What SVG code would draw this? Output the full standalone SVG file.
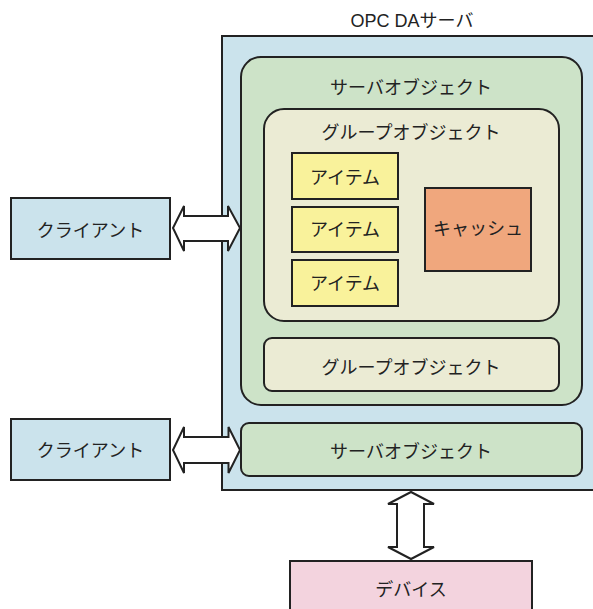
<svg xmlns="http://www.w3.org/2000/svg" width="593" height="609" viewBox="0 0 593 609">
  <style>
    .box { stroke: #222; stroke-width: 2; }
    .blue { fill: #cbe3ec; }
    .green { fill: #cde3c8; }
    .beige { fill: #ebebd4; }
    .yellow { fill: #f9f29b; }
    .salmon { fill: #f0a77d; }
    .pink { fill: #f3d3de; }
    .lbl { font-family: "Liberation Sans", "Noto Sans CJK JP", sans-serif; font-size: 18px; fill: #222; text-anchor: middle; }
    .arrow { fill: #fff; stroke: #222; stroke-width: 2; stroke-linejoin: miter; }
  </style>
  <rect width="593" height="609" fill="#fff"/>

  <g id="title">
    <text class="lbl" x="412" y="27">OPC DAサーバ</text>
  </g>

  <g id="opc-server">
    <rect class="box blue" x="222" y="36" width="390" height="454"/>
  </g>

  <g id="server-object-1">
    <rect class="box green" x="241" y="57" width="341" height="348" rx="20" ry="20"/>
    <text class="lbl" x="411" y="94">サーバオブジェクト</text>
  </g>

  <g id="group-object-1">
    <rect class="box beige" x="264" y="109" width="295" height="212" rx="20" ry="20"/>
    <text class="lbl" x="411" y="139">グループオブジェクト</text>
  </g>

  <g id="item-1">
    <rect class="box yellow" x="292" y="153" width="106" height="46"/>
    <text class="lbl" x="345" y="183.5">アイテム</text>
  </g>
  <g id="item-2">
    <rect class="box yellow" x="292" y="207" width="106" height="45"/>
    <text class="lbl" x="345" y="236">アイテム</text>
  </g>
  <g id="item-3">
    <rect class="box yellow" x="292" y="260" width="106" height="46"/>
    <text class="lbl" x="345" y="289.5">アイテム</text>
  </g>

  <g id="cache">
    <rect class="box salmon" x="425" y="188" width="106" height="83"/>
    <text class="lbl" x="478" y="235">キャッシュ</text>
  </g>

  <g id="group-object-2">
    <rect class="box beige" x="264" y="338" width="295" height="53" rx="8" ry="8"/>
    <text class="lbl" x="411" y="373.5">グループオブジェクト</text>
  </g>

  <g id="server-object-2">
    <rect class="box green" x="241" y="423" width="341" height="53" rx="8" ry="8"/>
    <text class="lbl" x="411" y="457.5">サーバオブジェクト</text>
  </g>

  <g id="client-1">
    <rect class="box blue" x="11" y="198" width="159" height="61"/>
    <text class="lbl" x="90.5" y="236.5">クライアント</text>
  </g>

  <g id="client-2">
    <rect class="box blue" x="11" y="419" width="159" height="61"/>
    <text class="lbl" x="90.5" y="457">クライアント</text>
  </g>

  <g id="device">
    <rect class="box pink" x="290" y="561" width="242" height="60"/>
    <text class="lbl" x="411" y="595.5">デバイス</text>
  </g>

  <g id="connectors">
    <polygon class="arrow" points="173,228 184,206 184,216 228,216 228,206 240,228 228,251 228,241 184,241 184,251"/>
    <polygon class="arrow" points="173,450 184,427 184,437 228.5,437 228.5,427 240,450 228.5,473 228.5,463 184,463 184,473"/>
    <polygon class="arrow" points="411,492 388,504 397,504 397,547 388,547 411,559 434,547 424,547 424,504 434,504"/>
  </g>
</svg>
